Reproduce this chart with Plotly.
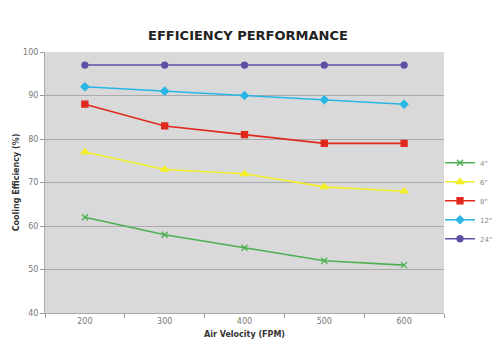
import plotly.graph_objects as go

velocities = ["200", "300", "400", "500", "600"]
s4 = [62, 58, 55, 52, 51]
s6 = [77, 73, 72, 69, 68]
s8 = [88, 83, 81, 79, 79]
s12 = [92, 91, 90, 89, 88]
s24 = [97, 97, 97, 97, 97]

series = [
    ('4"', s4, "#4cb050", "x-thin-open", 6),
    ('6"', s6, "#f2ee2a", "triangle-up", 7),
    ('8"', s8, "#e0281c", "square", 6),
    ('12"', s12, "#29b6e6", "diamond", 6),
    ('24"', s24, "#5e4fa6", "circle", 6),
]

fig = go.Figure()
for name, vals, color, sym, size in series:
    fig.add_trace(go.Scatter(
        x=velocities, y=vals, name=name, mode="lines+markers",
        line=dict(color=color, width=1.6),
        marker=dict(symbol=sym, size=size, color=color,
                    line=dict(color=color, width=1.3)),
    ))

fig.update_layout(
    width=496, height=352,
    margin=dict(l=45, r=52, t=52, b=39, autoexpand=False),
    paper_bgcolor="white",
    plot_bgcolor="#d9d9d9",
    font=dict(family="DejaVu Sans", size=8, color="#666666"),
    title=dict(text="<b>EFFICIENCY PERFORMANCE</b>", x=0.5, xanchor="center",
               y=0.9, yanchor="middle",
               font=dict(family="DejaVu Sans", size=13, color="#222222")),
    showlegend=True,
    legend=dict(x=0.99, y=0.43, xanchor="left", yanchor="middle",
                font=dict(size=7, color="#888888"), bgcolor="rgba(0,0,0,0)",
                tracegroupgap=0, itemwidth=30),
)
fig.update_xaxes(
    type="category", range=[-0.5, 4.5], tickson="boundaries",
    ticks="outside", ticklen=4, tickcolor="#999999",
    showgrid=False, showline=True, linecolor="#aaaaaa", linewidth=1,
    tickfont=dict(size=8, color="#777777"),
    title=dict(text="<b>Air Velocity (FPM)</b>", font=dict(size=8, color="#333333"), standoff=6),
)
fig.update_yaxes(
    range=[40, 100], dtick=10, ticks="outside", ticklen=4, tickcolor="#999999",
    showgrid=True, gridcolor="#aaaaaa", gridwidth=1,
    showline=True, linecolor="#aaaaaa", linewidth=1,
    tickfont=dict(size=8, color="#777777"),
    title=dict(text="<b>Cooling Efficiency (%)</b>", font=dict(size=8, color="#333333"), standoff=2),
)

fig.write_html("out.html")
